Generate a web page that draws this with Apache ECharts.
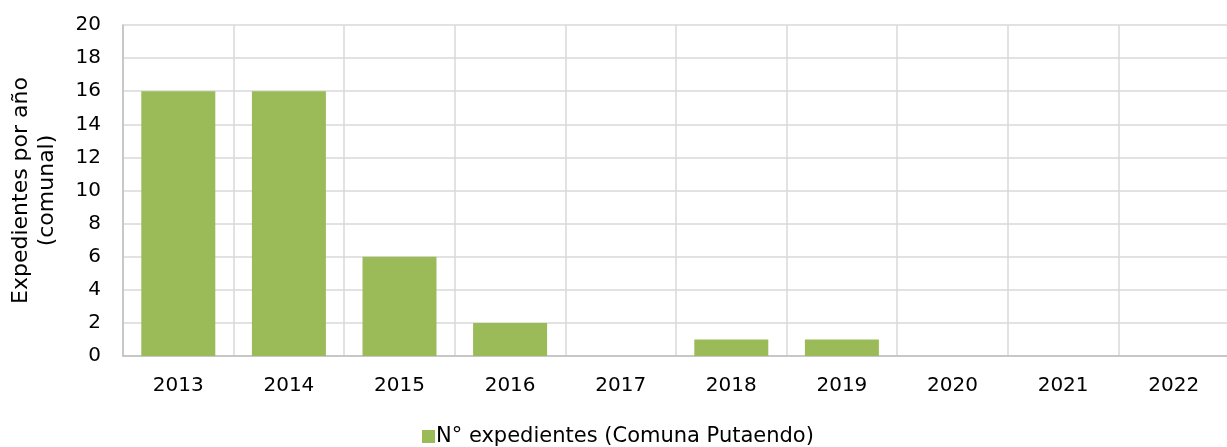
<!DOCTYPE html>
<html><head><meta charset="utf-8">
<script src="https://cdn.jsdelivr.net/npm/echarts@6/dist/echarts.min.js"></script>
<style>html,body{margin:0;padding:0;background:#fff}#c{width:1227px;height:447px}</style>
</head><body><div id="c"></div>
<script>
const categories = ['2013','2014','2015','2016','2017','2018','2019','2020','2021','2022'];
const values = [16,16,6,2,0,1,1,0,0,0];
const seriesName = 'N° expedientes (Comuna Putaendo)';
const yAxisTitle = 'Expedientes por año\n(comunal)';
const chart = echarts.init(document.getElementById('c'));
const font = '"DejaVu Sans", sans-serif';
chart.setOption({
  animation:false,
  grid:{left:123,top:25,width:1106,height:331,outerBoundsMode:'none',containLabel:false},
  legend:{bottom:0,left:422,padding:0,itemWidth:13,itemHeight:13,itemGap:4,icon:'rect',
    textStyle:{fontFamily:font,fontSize:21,color:'#000',padding:[0,0,0,-4]},data:[seriesName]},
  xAxis:{type:'category',data:categories,
    axisLine:{lineStyle:{color:'#bfbfbf',width:1.5}},axisTick:{show:false},
    axisLabel:{fontFamily:font,fontSize:20,color:'#000',margin:20},
    splitLine:{show:true,interval:0,lineStyle:{color:'#d9d9d9',width:1.5}}},
  yAxis:{type:'value',min:0,max:20,interval:2,
    name:yAxisTitle,nameLocation:'middle',nameGap:63,nameRotate:90,
    nameTextStyle:{fontFamily:font,fontSize:22,color:'#000',lineHeight:26},
    axisLine:{show:true,lineStyle:{color:'#bfbfbf',width:1.5}},axisTick:{show:false},
    axisLabel:{fontFamily:font,fontSize:20,color:'#000',margin:22},
    splitLine:{lineStyle:{color:'#d9d9d9',width:1.5}}},
  series:[{name:seriesName,type:'bar',data:values,barWidth:74,
    itemStyle:{color:'#9bbb59'}}]
});
</script></body></html>
